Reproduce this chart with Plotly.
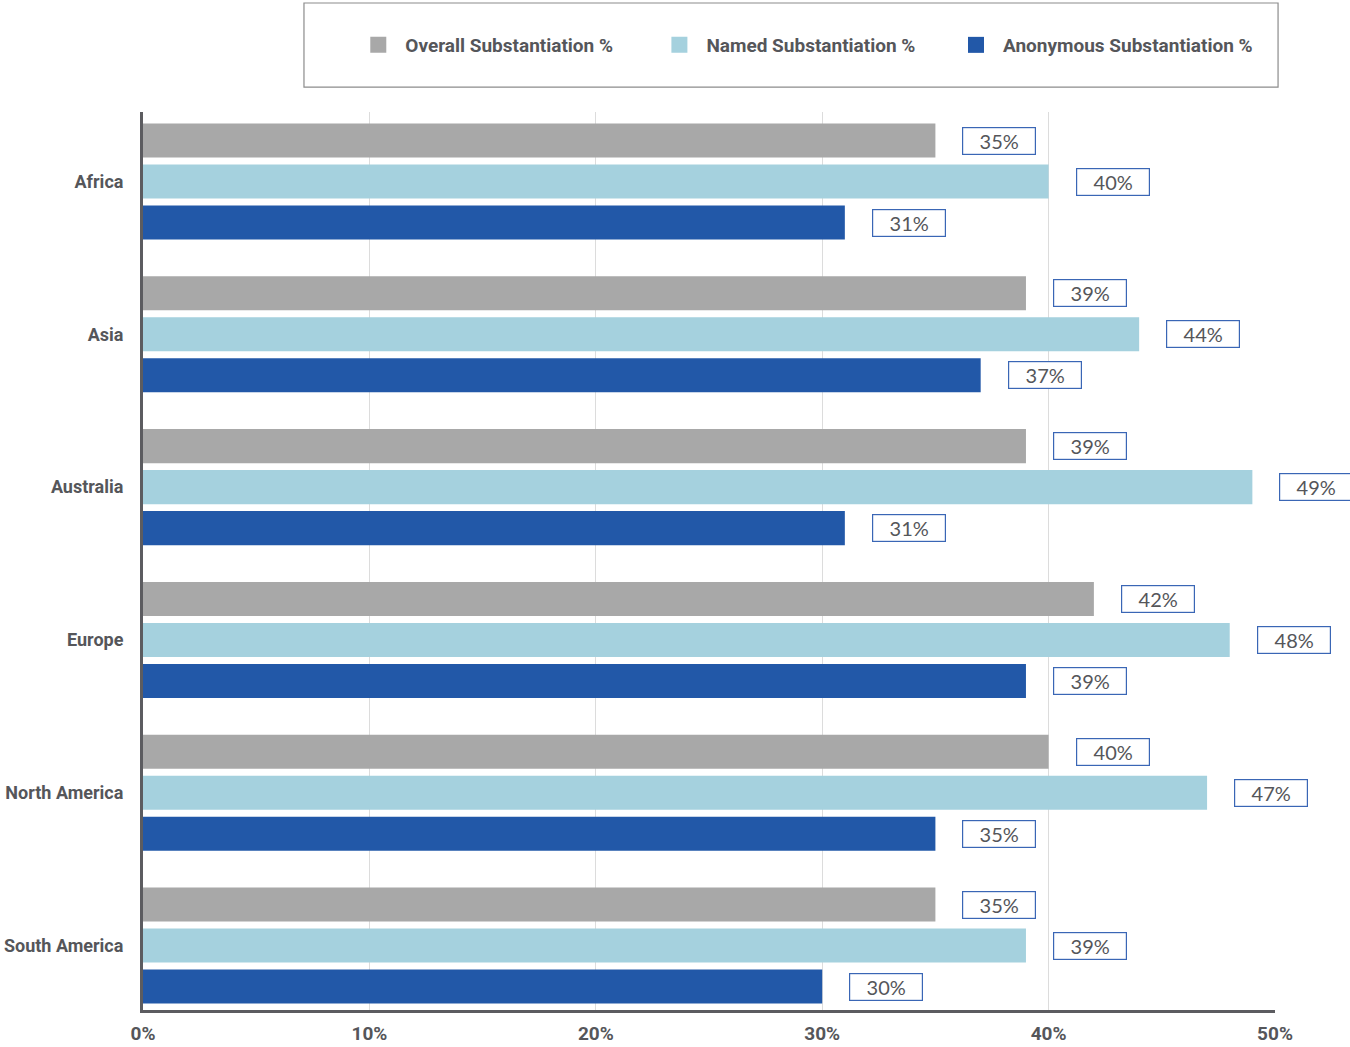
import plotly.graph_objects as go

# data
regions = ["Africa", "Asia", "Australia", "Europe", "North America", "South America"]
overall = [35, 39, 39, 42, 40, 35]
named = [40, 44, 49, 48, 47, 39]
anonymous = [31, 37, 31, 39, 35, 30]

series = [
    ("Overall Substantiation %", overall, "#a8a8a8"),
    ("Named Substantiation %", named, "#a5d1de"),
    ("Anonymous Substantiation %", anonymous, "#2258a8"),
]
x_ticks = [0, 10, 20, 30, 40, 50]

bold_font = "Roboto, Liberation Sans, sans-serif"
text_grey = "#55565a"

fig = go.Figure()
for name, vals, color in series:
    fig.add_trace(go.Bar(
        y=regions,
        x=vals,
        name=name,
        orientation="h",
        marker=dict(color=color, line=dict(width=0)),
        showlegend=False,
        hoverinfo="skip",
    ))

# one legend per series so the spacing matches the original key
legend_ids = ["legend", "legend2", "legend3"]
legend_x = [0.184, 0.450, 0.712]
for (name, vals, color), lg in zip(series, legend_ids):
    fig.add_trace(go.Scatter(
        x=[None], y=[None], name=name, mode="markers",
        marker=dict(symbol="square", size=29, color=color),
        legend=lg,
    ))

# boxed value labels next to each bar
shifts = [41, 0, -41]
for (name, vals, color), dy in zip(series, shifts):
    for region, v in zip(regions, vals):
        fig.add_annotation(
            x=v, y=region, xref="x", yref="y",
            text=f"{v}%",
            showarrow=False,
            xanchor="left",
            xshift=27, yshift=dy,
            width=70, height=24,
            align="center",
            bordercolor="#3a66b5", borderwidth=1.2, borderpad=1,
            bgcolor="white",
            font=dict(family="Lato, Open Sans, sans-serif", size=20, color=text_grey),
        )

# legend frame
fig.add_shape(
    type="rect", xref="paper", yref="paper",
    x0=0.1422, x1=1.0027, y0=1.0278, y1=1.1214,
    line=dict(color="#8c8c8c", width=1.2), fillcolor="rgba(0,0,0,0)",
)

legend_style = dict(
    orientation="h", y=1.0746, xanchor="left", yanchor="middle",
    font=dict(family=bold_font, size=19, color=text_grey, weight="bold"),
    itemwidth=44, itemsizing="trace",
    bgcolor="rgba(0,0,0,0)",
)

fig.update_layout(
    width=1350, height=1047,
    margin=dict(l=143, r=75, t=112, b=37, autoexpand=False),
    paper_bgcolor="white", plot_bgcolor="white",
    barmode="group", bargap=0.195, bargroupgap=0.17,
    showlegend=True,
    legend=dict(x=legend_x[0], **legend_style),
    legend2=dict(x=legend_x[1], **legend_style),
    legend3=dict(x=legend_x[2], **legend_style),
    xaxis=dict(
        range=[0, 50], tickvals=x_ticks,
        ticktext=[f"{t}%" for t in x_ticks],
        showgrid=True, gridcolor="#dcdcdc", gridwidth=1,
        showline=True, linecolor="#5c5c60", linewidth=3,
        zeroline=False, ticks="", ticklabelstandoff=4,
        automargin=False,
        tickfont=dict(family=bold_font, size=19, color=text_grey, weight="bold"),
    ),
    yaxis=dict(
        categoryorder="array", categoryarray=regions,
        range=[5.422, -0.455],
        showgrid=False,
        showline=True, linecolor="#5c5c60", linewidth=3,
        ticks="", ticklabelstandoff=13,
        automargin=False,
        tickfont=dict(family=bold_font, size=18, color=text_grey, weight="bold"),
    ),
)

# drop the default page margin so the figure sits at the window's corner
fig.write_html(
    "out.html",
    config={"displayModeBar": False},
    post_script="document.body.style.margin='0px';",
)
